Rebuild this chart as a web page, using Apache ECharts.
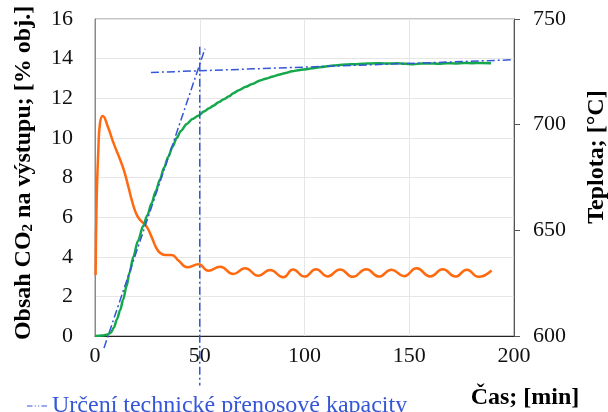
<!DOCTYPE html>
<html>
<head>
<meta charset="utf-8">
<script src="https://cdn.jsdelivr.net/npm/echarts/dist/echarts.min.js"></script>
<style>html,body{margin:0;padding:0;background:#fff}#c{width:608px;height:412px}</style>
</head>
<body>
<div id="c"></div>
<script>
// X axis ticks (time, min)
const xTicks = [0, 50, 100, 150, 200];
const leftTicks = [0, 2, 4, 6, 8, 10, 12, 14, 16];
const rightTicks = [600, 650, 700, 750];

// CO2 at outlet [% vol.] vs time [min]
const co2Time = [0,2,4,6,7.5,9,10.5,12,13.5,15,16.5,18.3,20.5,23,25,27,29,31,33,35,37,39,41,43.8,46.5,49.3,52,54.5,56.5,59,61.5,64,66,69,72,75,78.8,82,85,88.3,91,94,97.9,101,104,108,112,116,120,124,128,132,136,140,144,148,152,156,160,164,168,172,176,180,184,189];
const co2Value = [0,0.01,0.03,0.07,0.17,0.42,0.85,1.3,1.85,2.5,3.2,4.0,4.8,5.55,6.1,6.7,7.3,7.9,8.5,9.05,9.55,10.0,10.35,10.7,10.95,11.12,11.33,11.5,11.62,11.8,11.95,12.1,12.25,12.42,12.58,12.72,12.9,13.0,13.1,13.2,13.28,13.36,13.43,13.47,13.52,13.58,13.63,13.67,13.7,13.72,13.74,13.76,13.77,13.75,13.77,13.74,13.72,13.75,13.76,13.74,13.77,13.76,13.78,13.77,13.78,13.77];

// Temperature [°C] vs time [min]
const tempTime = [0.3,0.8,1.6,2.4,3.7,6,9,12,14,16,18,20,22,24.5,27,29,31,33.5,36.5,40,44,49.4,54.1,59.7,66,71.6,78,83.5,89.9,94.5,100,105.5,111,117,123,129.5,135.5,141.5,147.5,153.5,160,166,172,177.5,183,189.3];
const tempValue = [628.9,664.7,688.1,700.8,704.1,699.4,690.9,683.4,677.8,670.3,662.8,657.2,654.4,652.0,646.9,642.2,639.4,638.3,638.3,635.6,632.5,633.9,630.9,632.8,629.3,632.1,628.5,631.2,627.8,631.5,628.1,631.6,628.2,631.5,628.0,631.6,628.1,631.4,628.3,632.0,628.2,631.6,628.1,631.4,628.0,631.0];

// Tangent construction lines [time, % vol.]
const tangentRise = [[4.3, -0.6], [52.5, 14.5]];
const tangentPlateau = [[26.7, 13.3], [199, 13.94]];
const capacityMark = [[50, 14.6], [50, -2.5]];

const legendName = 'Určení technické přenosové kapacity';

const zip = (a, b) => a.map((v, i) => [v, b[i]]);
const FONT = 'Liberation Serif';
const BLUE = '#3556d8';
const dashDot = { color: BLUE, width: 1.5, type: [8, 3, 2, 3] };

const chart = echarts.init(document.getElementById('c'), null, { renderer: 'canvas' });
chart.setOption({
  animation: false,
  backgroundColor: '#fff',
  grid: { left: 95, right: 94, top: 19, bottom: 76, show: true, borderColor: '#8a8a8a', borderWidth: 1 },
  legend: {
    data: [legendName],
    left: 22, top: 389,
    icon: 'path://M0,0H5V1H0Z M7,0H8V1H7Z M10,0H11V1H10Z M13,0H18V1H13Z',
    itemWidth: 20, itemHeight: 2,
    textStyle: { color: BLUE, fontSize: 24, fontFamily: FONT },
    itemStyle: { color: BLUE }
  },
  xAxis: {
    type: 'value', min: xTicks[0], max: xTicks[xTicks.length - 1], interval: 50,
    axisLine: { show: true, onZero: false, lineStyle: { color: '#222', width: 1 } },
    axisTick: { show: false },
    axisLabel: { color: '#111', fontSize: 22, fontFamily: FONT, margin: 9 },
    splitLine: { show: true, lineStyle: { color: '#e6e6e6', width: 1 } }
  },
  yAxis: [
    {
      type: 'value', min: leftTicks[0], max: leftTicks[leftTicks.length - 1], interval: 2,
      axisLine: { show: true, lineStyle: { color: '#8a8a8a', width: 1 } },
      axisTick: { show: false },
      axisLabel: { color: '#111', fontSize: 22, fontFamily: FONT, margin: 22 },
      splitLine: { show: true, lineStyle: { color: '#e6e6e6', width: 1 } }
    },
    {
      type: 'value', position: 'right', min: rightTicks[0], max: rightTicks[rightTicks.length - 1], interval: 50,
      axisLine: { show: true, lineStyle: { color: '#555', width: 1 } },
      axisTick: { show: true, inside: false, length: 6, lineStyle: { color: '#555' } },
      axisLabel: { color: '#111', fontSize: 22, fontFamily: FONT, margin: 19 },
      splitLine: { show: false }
    }
  ],
  series: [
    {
      name: 'Teplota', type: 'line', yAxisIndex: 1, data: zip(tempTime, tempValue),
      showSymbol: false, smooth: 0.5,
      lineStyle: { color: '#ff6a10', width: 2.5 }, itemStyle: { color: '#ff6a10' }
    },
    {
      name: 'CO2', type: 'line', yAxisIndex: 0, data: zip(co2Time, co2Value),
      showSymbol: false, smooth: 0.3, smoothMonotone: 'x',
      lineStyle: { color: '#14a84a', width: 2.5 }, itemStyle: { color: '#14a84a' }
    },
    { name: legendName, type: 'line', data: tangentRise, showSymbol: false, clip: false, lineStyle: dashDot, itemStyle: { color: BLUE } },
    { name: legendName, type: 'line', data: tangentPlateau, showSymbol: false, clip: false, lineStyle: dashDot, itemStyle: { color: BLUE } },
    { name: legendName, type: 'line', data: capacityMark, showSymbol: false, clip: false, lineStyle: dashDot, itemStyle: { color: BLUE } }
  ],
  graphic: [
    {
      type: 'text', x: 24, y: 173, rotation: Math.PI / 2,
      style: {
        text: 'Obsah CO{sub|2} na výstupu; [% obj.]',
        font: 'bold 24px "Liberation Serif"', fill: '#000',
        textAlign: 'center', textVerticalAlign: 'middle',
        rich: { sub: { font: 'bold 15px "Liberation Serif"', fill: '#000', verticalAlign: 'bottom' } }
      }
    },
    {
      type: 'text', x: 597, y: 157, rotation: Math.PI / 2,
      style: { text: 'Teplota; [°C]', font: 'bold 24px "Liberation Serif"', fill: '#000', textAlign: 'center', textVerticalAlign: 'middle' }
    },
    {
      type: 'text', x: 525, y: 398,
      style: { text: 'Čas; [min]', font: 'bold 24px "Liberation Serif"', fill: '#000', textAlign: 'center', textVerticalAlign: 'middle' }
    }
  ]
});
</script>
</body>
</html>
